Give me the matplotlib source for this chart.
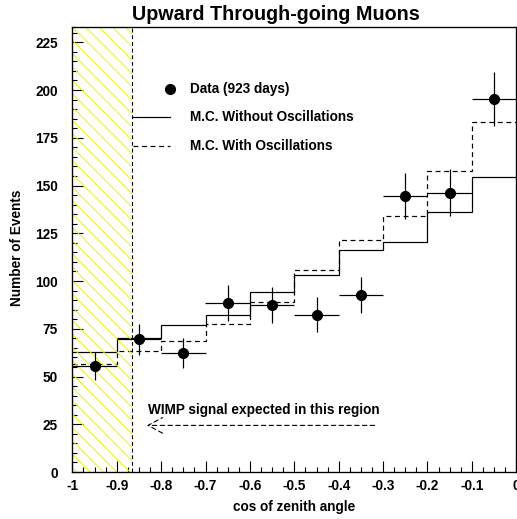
import numpy as np
import matplotlib
matplotlib.use('Agg')
import matplotlib.pyplot as plt
from matplotlib.ticker import MultipleLocator

plt.rcParams['font.family'] = ['Liberation Sans', 'DejaVu Sans']
plt.rcParams['font.weight'] = 'bold'

# bins in cos(zenith)
edges = [-1.0, -0.9, -0.8, -0.7, -0.6, -0.5, -0.4, -0.3, -0.2, -0.1, 0.0]
centers = [-0.95, -0.85, -0.75, -0.65, -0.55, -0.45, -0.35, -0.25, -0.15, -0.05]

# data (923 days)
data = [55.5, 69.4, 62.3, 88.4, 87.5, 82.4, 92.6, 144.5, 146.3, 195.2]
data_err = [7.4, 8.2, 7.9, 9.4, 9.4, 9.1, 9.6, 12.0, 12.1, 14.0]
# monte carlo
mc_noosc = [63.0, 70.3, 76.8, 82.0, 94.0, 103.4, 116.2, 120.2, 136.0, 154.2]
mc_osc = [56.5, 63.6, 68.7, 77.4, 88.8, 105.7, 121.4, 134.0, 157.7, 183.3]

wimp_cut = -0.866   # cos(150 deg)
xticks = [-1.0, -0.9, -0.8, -0.7, -0.6, -0.5, -0.4, -0.3, -0.2, -0.1, 0.0]
xtick_labels = ['-1', '-0.9', '-0.8', '-0.7', '-0.6', '-0.5', '-0.4', '-0.3', '-0.2', '-0.1', '0']
yticks = [0, 25, 50, 75, 100, 125, 150, 175, 200, 225]

DPI = 80
W, H = 517, 519
fig = plt.figure(figsize=(W/DPI, H/DPI), dpi=DPI)
ax = fig.add_axes([72.3/W, 47/H, 444/W, 445/H])
ax.set_xlim(-1, 0)
ax.set_ylim(0, 233)

dash = (0, (4, 3))
fs = 12.3

# WIMP region, yellow hatching
span = ax.axvspan(-1, wimp_cut, facecolor='none', lw=0)
for a in np.arange(0.01 - 1.0, 0.15, 0.03):
    ln, = ax.plot([a, a + 1], [1, 0], color='#f2f200', lw=0.9, transform=ax.transAxes)
    ln.set_clip_path(span)
ax.axvline(wimp_cut, color='k', ls=(0, (3.5, 2.5)), lw=1.0)

ax.stairs(mc_noosc, edges, baseline=None, color='k', lw=1.1)
ax.stairs(mc_osc, edges, baseline=None, color='k', lw=1.1, ls=dash)
ax.errorbar(centers, data, yerr=data_err, xerr=0.05, fmt='o', color='k',
            ms=9, elinewidth=1.1, capsize=0)

# legend drawn by hand
ax.plot([0.22], [0.861], 'o', color='k', ms=9, transform=ax.transAxes, clip_on=False)
ax.plot([0.137, 0.22], [0.798, 0.798], color='k', lw=1.1, transform=ax.transAxes)
ax.plot([0.137, 0.22], [0.733, 0.733], color='k', lw=1.1, ls=dash, transform=ax.transAxes)
ax.text(0.265, 0.861, 'Data (923 days)', transform=ax.transAxes, va='center', fontsize=fs)
ax.text(0.265, 0.798, 'M.C. Without Oscillations', transform=ax.transAxes, va='center', fontsize=fs)
ax.text(0.265, 0.733, 'M.C. With Oscillations', transform=ax.transAxes, va='center', fontsize=fs)

# arrow pointing to WIMP region
ax.text(-0.829, 32.6, 'WIMP signal expected in this region', va='center', ha='left', fontsize=fs)
ax.annotate('', xy=(-0.832, 24.4), xytext=(-0.319, 24.4),
            arrowprops=dict(arrowstyle='->,head_length=1.3,head_width=0.7', color='k',
                            lw=1.0, ls=(0, (4, 3)), shrinkA=0, shrinkB=0, mutation_scale=10))

ax.set_xticks(xticks)
ax.set_xticklabels(xtick_labels)
ax.set_yticks(yticks)
ax.xaxis.set_minor_locator(MultipleLocator(0.025))
ax.yaxis.set_minor_locator(MultipleLocator(5))
ax.tick_params(which='both', direction='in', top=False, right=False, labelsize=fs, width=1.0)
ax.tick_params(which='major', length=9.9)
ax.tick_params(which='minor', length=4.5)
ax.tick_params(axis='y', pad=13)
ax.tick_params(axis='x', pad=6)
for s in ax.spines.values():
    s.set_linewidth(1.2)

fig.text(294/W, 1 - 506.7/H, 'cos of zenith angle', ha='center', va='center', fontsize=fs)
fig.text(17.5/W, 1 - 248/H, 'Number of Events', ha='center', va='center', rotation=90, fontsize=fs)
fig.text(275.7/W, 1 - 14/H, 'Upward Through-going Muons', ha='center', va='center', fontsize=17.8)

fig.savefig('out.png', dpi=DPI)
